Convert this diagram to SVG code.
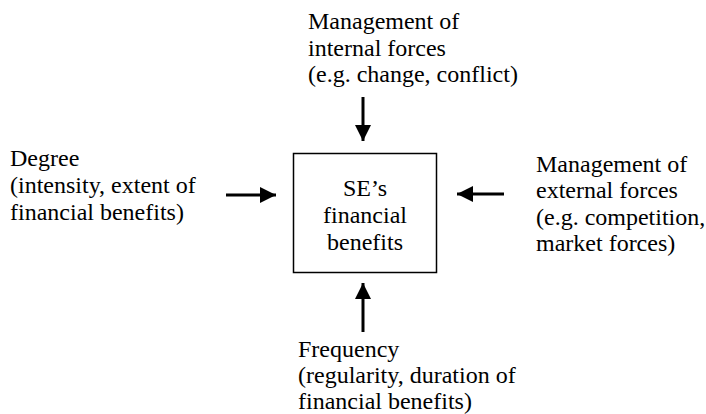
<svg xmlns="http://www.w3.org/2000/svg" width="706" height="414" viewBox="0 0 706 414">
<defs>
<marker id="ah" markerWidth="16" markerHeight="16" refX="16" refY="8" orient="auto" markerUnits="userSpaceOnUse" viewBox="0 0 16 16">
<path d="M0,0 L16,8 L0,16 z" fill="#000"/>
</marker>
<style>
text{font-family:"Liberation Serif","Times New Roman",serif;font-size:24px;fill:#000}
.c{text-anchor:middle}
.ln{stroke:#000;stroke-width:3;fill:none;marker-end:url(#ah)}
</style>
</defs>
<rect width="706" height="414" fill="#fff"/>
<g id="center">
<rect x="293.5" y="153.5" width="143" height="119" fill="#fff" stroke="#000" stroke-width="1.5"/>
<text class="c" x="365" y="196">SE’s</text>
<text class="c" x="365" y="223">financial</text>
<text class="c" x="365" y="250">benefits</text>
</g>
<g id="top">
<text x="308" y="29">Management of</text>
<text x="308" y="56">internal forces</text>
<text x="308" y="82">(e.g. change, conflict)</text>
</g>
<g id="left">
<text x="10" y="166">Degree</text>
<text x="10" y="193">(intensity, extent of</text>
<text x="10" y="220">financial benefits)</text>
</g>
<g id="right">
<text x="536" y="172">Management of</text>
<text x="536" y="198">external forces</text>
<text x="536" y="225">(e.g. competition,</text>
<text x="536" y="251">market forces)</text>
</g>
<g id="bottom">
<text x="298" y="357">Frequency</text>
<text x="298" y="383">(regularity, duration of</text>
<text x="298" y="409">financial benefits)</text>
</g>
<g id="connectors">
<line class="ln" x1="363" y1="97" x2="363" y2="141"/>
<line class="ln" x1="363" y1="332" x2="363" y2="283"/>
<line class="ln" x1="226" y1="195" x2="276" y2="195"/>
<line class="ln" x1="504" y1="194" x2="457" y2="194"/>
</g>
</svg>
